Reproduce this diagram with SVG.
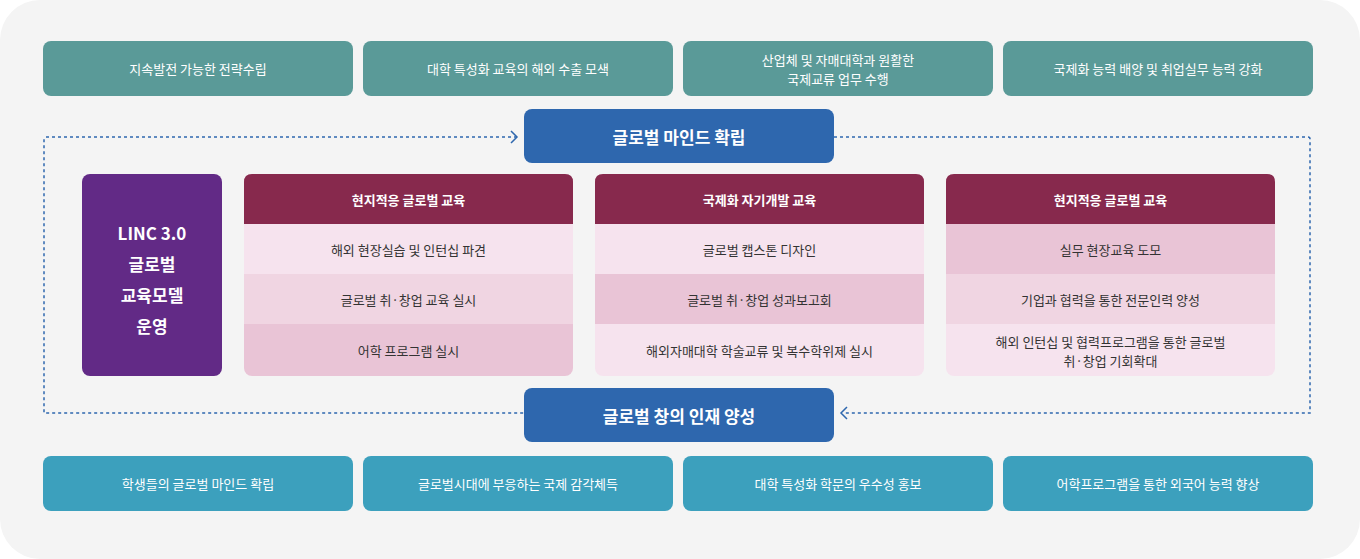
<svg xmlns="http://www.w3.org/2000/svg" width="1360" height="559" viewBox="0 0 1360 559">
<style>
text{font-family:"Noto Sans CJK KR","Noto Sans",sans-serif;text-anchor:middle;dominant-baseline:central}
.t{fill:#5a9a98}.b{fill:#3ca0bd}.m{fill:#2e67ae}
.w{fill:#fff;font-size:13px}.wb{fill:#fff;font-size:17px;font-weight:bold}
.h{fill:#fff;font-size:13px;font-weight:bold}
.d{fill:#333;font-size:13px}
.c{fill:none;stroke:#2e67ae;stroke-width:1.5;stroke-dasharray:3 3}
.a{fill:none;stroke:#2e67ae;stroke-width:1.5}
</style>
<rect width="1360" height="559" rx="40" fill="#f4f4f4"/>
<g id="connectors">
<path class="c" d="M517 137H46Q44 137 44 139V413H524"/>
<path class="a" d="M511 131L517 137L511 143"/>
<path class="c" d="M834 137H1308Q1310 137 1310 139V413H843"/>
<path class="a" d="M847 407L841 413L847 419"/>
</g>
<g id="top1"><rect class="t" x="43" y="41" width="310" height="55" rx="8"/><text class="w" x="198" y="68.5">지속발전 가능한 전략수립</text></g>
<g id="top2"><rect class="t" x="363" y="41" width="310" height="55" rx="8"/><text class="w" x="518" y="68.5">대학 특성화 교육의 해외 수출 모색</text></g>
<g id="top3"><rect class="t" x="683" y="41" width="310" height="55" rx="8"/><text class="w" x="838" y="59">산업체 및 자매대학과 원활한</text><text class="w" x="838" y="78">국제교류 업무 수행</text></g>
<g id="top4"><rect class="t" x="1003" y="41" width="310" height="55" rx="8"/><text class="w" x="1158" y="68.5">국제화 능력 배양 및 취업실무 능력 강화</text></g>
<g id="mind"><rect class="m" x="524" y="109" width="310" height="54" rx="8"/><text class="wb" x="679" y="136">글로벌 마인드 확립</text></g>
<g id="talent"><rect class="m" x="524" y="388" width="310" height="54" rx="8"/><text class="wb" x="679" y="415">글로벌 창의 인재 양성</text></g>
<g id="linc"><rect x="82" y="174" width="140" height="202" rx="8" fill="#622a86"/>
<text class="wb" x="152" y="232">LINC 3.0</text><text class="wb" x="152" y="263">글로벌</text><text class="wb" x="152" y="294">교육모델</text><text class="wb" x="152" y="325">운영</text></g>
<g id="col1">
<rect x="244" y="174" width="329" height="202" rx="8" fill="#e9c4d6"/>
<path d="M252 174H565Q573 174 573 182V224H244V182Q244 174 252 174Z" fill="#87294d"/>
<rect x="244" y="224" width="329" height="50" fill="#f6e3ee"/><rect x="244" y="274" width="329" height="50" fill="#f0d5e2"/>
<text class="h" x="408.5" y="199">현지적응 글로벌 교육</text>
<text class="d" x="408.5" y="249">해외 현장실습 및 인턴십 파견</text>
<text class="d" x="408.5" y="299">글로벌 취·창업 교육 실시</text>
<text class="d" x="408.5" y="350">어학 프로그램 실시</text></g>
<g id="col2">
<rect x="595" y="174" width="329" height="202" rx="8" fill="#f6e3ee"/>
<path d="M603 174H916Q924 174 924 182V224H595V182Q595 174 603 174Z" fill="#87294d"/>
<rect x="595" y="274" width="329" height="50" fill="#e9c4d6"/><rect x="595" y="224" width="329" height="50" fill="#f6e3ee"/>
<text class="h" x="759.5" y="199">국제화 자기개발 교육</text>
<text class="d" x="759.5" y="249">글로벌 캡스톤 디자인</text>
<text class="d" x="759.5" y="299">글로벌 취·창업 성과보고회</text>
<text class="d" x="759.5" y="350">해외자매대학 학술교류 및 복수학위제 실시</text></g>
<g id="col3">
<rect x="946" y="174" width="329" height="202" rx="8" fill="#f6e3ee"/>
<path d="M954 174H1267Q1275 174 1275 182V224H946V182Q946 174 954 174Z" fill="#87294d"/>
<rect x="946" y="224" width="329" height="50" fill="#e9c4d6"/><rect x="946" y="274" width="329" height="50" fill="#f0d5e2"/>
<text class="h" x="1110.5" y="199">현지적응 글로벌 교육</text>
<text class="d" x="1110.5" y="249">실무 현장교육 도모</text>
<text class="d" x="1110.5" y="299">기업과 협력을 통한 전문인력 양성</text>
<text class="d" x="1110.5" y="341">해외 인턴십 및 협력프로그램을 통한 글로벌</text>
<text class="d" x="1110.5" y="360">취·창업 기회확대</text></g>
<g id="bot1"><rect class="b" x="43" y="456" width="310" height="55" rx="8"/><text class="w" x="198" y="483.5">학생들의 글로벌 마인드 확립</text></g>
<g id="bot2"><rect class="b" x="363" y="456" width="310" height="55" rx="8"/><text class="w" x="518" y="483.5">글로벌시대에 부응하는 국제 감각체득</text></g>
<g id="bot3"><rect class="b" x="683" y="456" width="310" height="55" rx="8"/><text class="w" x="838" y="483.5">대학 특성화 학문의 우수성 홍보</text></g>
<g id="bot4"><rect class="b" x="1003" y="456" width="310" height="55" rx="8"/><text class="w" x="1158" y="483.5">어학프로그램을 통한 외국어 능력 향상</text></g>
</svg>
